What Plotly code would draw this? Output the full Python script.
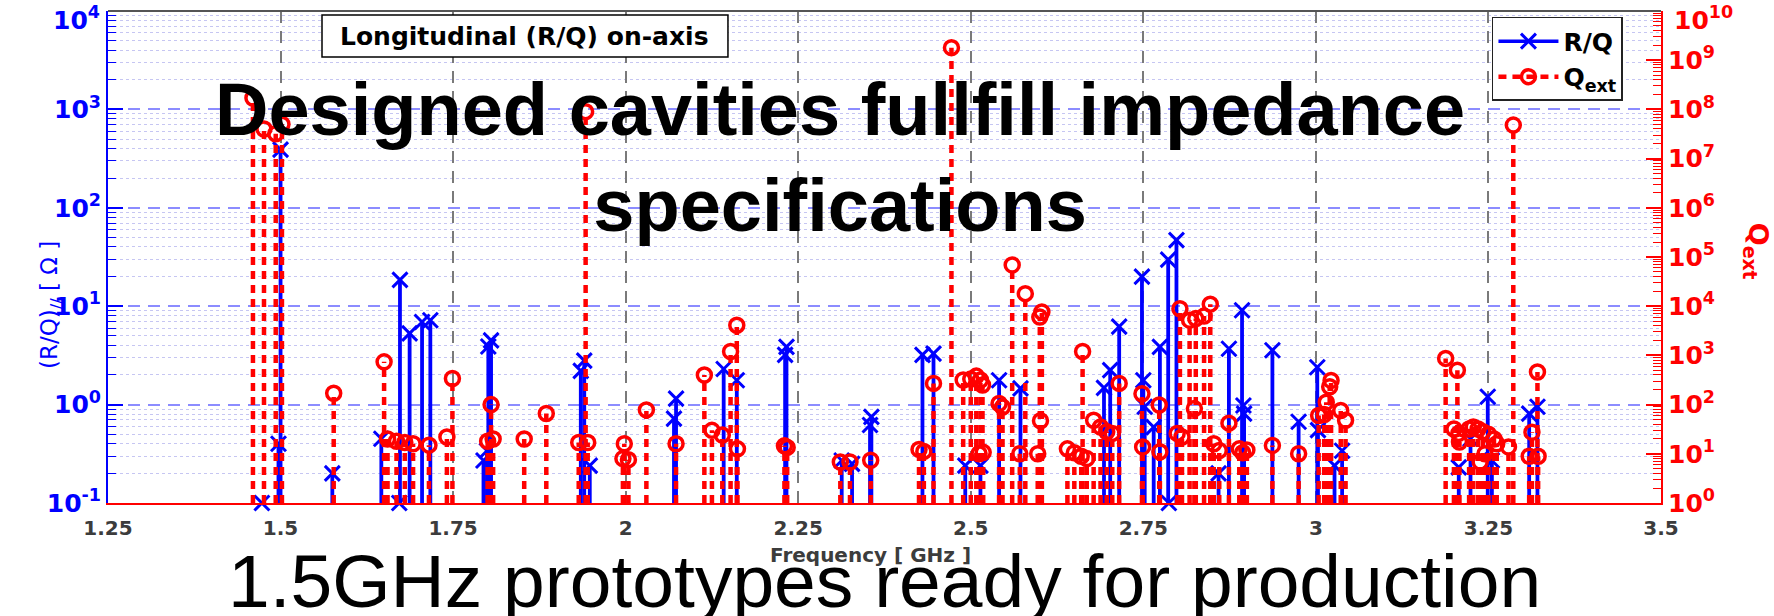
import plotly.graph_objects as go

# ---------------- data ----------------
freq_ticks = [1.25, 1.5, 1.75, 2.0, 2.25, 2.5, 2.75, 3.0, 3.25, 3.5]
freq_tick_labels = ["1.25", "1.5", "1.75", "2", "2.25", "2.5", "2.75", "3", "3.25", "3.5"]

rq_tick_vals = [1e-1, 1e0, 1e1, 1e2, 1e3, 1e4]
rq_tick_labels = ["10<sup>-1</sup>", "10<sup>0</sup>", "10<sup>1</sup>", "10<sup>2</sup>",
                  "10<sup>3</sup>", "10<sup>4</sup>"]
qext_tick_vals = [1e0, 1e1, 1e2, 1e3, 1e4, 1e5, 1e6, 1e7, 1e8, 1e9, 1e10]
qext_tick_labels = ["10<sup>0</sup>", "10<sup>1</sup>", "10<sup>2</sup>", "10<sup>3</sup>",
                    "10<sup>4</sup>", "10<sup>5</sup>", "10<sup>6</sup>", "10<sup>7</sup>",
                    "10<sup>8</sup>", "10<sup>9</sup>", "10<sup>10</sup>"]

# longitudinal R/Q [Ohm]
rq_freq = [1.473, 1.497, 1.500, 1.575, 1.646, 1.672, 1.673, 1.687, 1.705, 1.717,
           1.794, 1.799, 1.801, 1.805, 1.935, 1.940, 1.948, 2.070, 2.073, 2.142,
           2.161, 2.231, 2.233, 2.313, 2.328, 2.354, 2.356, 2.430, 2.446, 2.492,
           2.514, 2.541, 2.572, 2.693, 2.702, 2.715, 2.748, 2.750, 2.752, 2.765,
           2.774, 2.787, 2.786, 2.798, 2.859, 2.874, 2.893, 2.895, 2.896, 2.937,
           2.975, 3.002, 3.003, 3.027, 3.038, 3.207, 3.224, 3.249, 3.255, 3.309,
           3.321]
rq_vals = [0.10, 0.40, 390, 0.20, 0.45, 0.10, 18.5, 5.3, 6.9, 7.2,
           0.27, 0.34, 3.9, 4.5, 2.2, 2.8, 0.24, 0.72, 1.15, 2.3,
           1.77, 3.2, 3.86, 0.27, 0.25, 0.62, 0.75, 3.2, 3.3, 0.24,
           0.24, 1.77, 1.46, 1.48, 2.24, 6.2, 20, 1.77, 0.95, 0.59,
           3.86, 0.10, 29.7, 47, 0.20, 3.7, 9.1, 0.98, 0.81, 3.57,
           0.67, 2.4, 0.55, 0.24, 0.34, 0.23, 0.45, 1.2, 0.27, 0.81,
           0.95]

# external Q
qext_freq = [1.460, 1.476, 1.493, 1.502, 1.577, 1.650, 1.655, 1.668, 1.680, 1.692,
             1.715, 1.741, 1.749, 1.800, 1.805, 1.808, 1.853, 1.885, 1.932, 1.942,
             1.945, 1.998, 1.996, 2.004, 2.030, 2.073, 2.114, 2.125, 2.140, 2.152,
             2.161, 2.162, 2.230, 2.234, 2.311, 2.325, 2.355, 2.425, 2.432, 2.446,
             2.472, 2.489, 2.500, 2.508, 2.514, 2.517, 2.512, 2.518, 2.541, 2.546,
             2.560, 2.571, 2.579, 2.597, 2.600, 2.603, 2.601, 2.640, 2.650, 2.660,
             2.668, 2.662, 2.678, 2.688, 2.697, 2.705, 2.715, 2.748, 2.749, 2.773,
             2.774, 2.799, 2.803, 2.806, 2.817, 2.824, 2.826, 2.838, 2.847, 2.852,
             2.860, 2.874, 2.889, 2.894, 2.900, 2.937, 2.975, 3.004, 3.012, 3.015,
             3.020, 3.022, 3.036, 3.043, 3.188, 3.205, 3.200, 3.207, 3.208, 3.222,
             3.228, 3.235, 3.242, 3.250, 3.258, 3.262, 3.238, 3.245, 3.279, 3.286,
             3.321, 3.313, 3.309, 3.322]
qext_vals = [1.7e8, 4.0e7, 3.2e7, 5.0e7, 170, 740, 20, 18, 17, 16,
             15, 22, 340, 18, 100, 20, 20, 66, 17, 9.0e7,
             17, 16, 8.0, 7.6, 78, 16, 400, 30, 24, 1200,
             4100, 12.6, 14.5, 13.5, 6.8, 6.8, 7.4, 12.3, 11.2, 270,
             1.8e9, 316, 330, 380, 316, 250, 10, 10.7, 105, 89,
             6.9e4, 10, 1.8e4, 10, 6000, 7600, 47, 12.6, 10.5, 8.9,
             8.0, 1200, 48, 35, 28, 26, 270, 166, 13.8, 98,
             11, 26, 8900, 22, 5200, 83, 5600, 6300, 1.1e4, 16,
             11.7, 42, 12.6, 10.5, 12, 14.8, 10, 60, 63, 112,
             230, 310, 76, 48, 870, 500, 32, 26, 17.4, 32,
             35, 32, 28, 25, 20, 16, 6.8, 10, 13.8, 4.8e7,
             460, 27.5, 8.9, 8.9]

RQ_BASE = 0.1
QEXT_BASE = 1.0

BLUE = "#0000ff"
RED = "#ff0000"
FONT = "DejaVu Sans"


def stems(xs, ys, base):
    sx, sy = [], []
    for x, y in zip(xs, ys):
        sx += [x, x, None]
        sy += [base, y, None]
    return sx, sy


fig = go.Figure()

bx, by = stems(rq_freq, rq_vals, RQ_BASE)
rx, ry = stems(qext_freq, qext_vals, QEXT_BASE)

fig.add_trace(go.Scatter(x=bx, y=by, mode="lines", line=dict(color=BLUE, width=3.8),
                         showlegend=False, hoverinfo="skip", yaxis="y"))
fig.add_trace(go.Scatter(x=rx, y=ry, mode="lines", line=dict(color=RED, width=4.5, dash="8px,6px"),
                         showlegend=False, hoverinfo="skip", yaxis="y2"))
fig.add_trace(go.Scatter(x=rq_freq, y=rq_vals, mode="markers", yaxis="y", cliponaxis=False,
                         marker=dict(symbol="x-thin", size=15, line=dict(color=BLUE, width=3)),
                         showlegend=False))
fig.add_trace(go.Scatter(x=qext_freq, y=qext_vals, mode="markers", yaxis="y2", cliponaxis=False,
                         marker=dict(symbol="circle-open", size=14, color=RED, line=dict(color=RED, width=3.5)),
                         showlegend=False))

# legend entries
fig.add_trace(go.Scatter(x=[None], y=[None], mode="lines+markers", name="R/Q",
                         line=dict(color=BLUE, width=3.5),
                         marker=dict(symbol="x-thin", size=15, line=dict(color=BLUE, width=3))))
fig.add_trace(go.Scatter(x=[None], y=[None], mode="lines+markers", name="Q<sub>ext</sub>",
                         line=dict(color=RED, width=4.5, dash="8px,6px"),
                         marker=dict(symbol="circle-open", size=14, color=RED, line=dict(color=RED, width=3.5))))

rq_minor = [m * 10.0 ** e for e in range(-1, 4) for m in range(2, 10)]
q_minor = [m * 10.0 ** e for e in range(0, 10) for m in range(2, 10)]

# the topmost labels are placed a little lower (as in the original) via annotations
rq_axis_labels = rq_tick_labels[:-1] + [""]
q_axis_labels = qext_tick_labels[:-1] + [""]

fig.update_layout(
    width=1774, height=616,
    margin=dict(l=108, r=113, t=11, b=113, autoexpand=False),
    paper_bgcolor="white", plot_bgcolor="white",
    font=dict(family=FONT, color="black"),
    showlegend=True,
    legend=dict(x=0.9755, y=0.988, xanchor="right", yanchor="top",
                bgcolor="white", bordercolor="#222222", borderwidth=1.5,
                font=dict(family=FONT, size=25, color="black", weight="bold"),
                itemwidth=60, tracegroupgap=0),
    xaxis=dict(range=[1.25, 3.5], tickmode="array", tickvals=freq_ticks, ticktext=freq_tick_labels,
               showgrid=True, gridcolor="#7a7a7a", gridwidth=1.5, griddash="12px,8px",
               showline=True, linecolor=RED, linewidth=2, ticks="", zeroline=False,
               tickfont=dict(family=FONT, size=20, color="#3c3c3c", weight="bold"),
               ticklabelstandoff=6),
    yaxis=dict(type="log", range=[-1, 4], tickmode="array", tickvals=rq_tick_vals, ticktext=rq_axis_labels,
               showgrid=True, gridcolor="#8c8cff", gridwidth=1.5, griddash="12px,8px",
               showline=True, linecolor=BLUE, linewidth=2, ticks="inside", ticklen=15, tickwidth=1.5,
               tickcolor=BLUE, zeroline=False, ticklabeloverflow="allow",
               tickfont=dict(family=FONT, size=25, color=BLUE, weight="bold"),
               minor=dict(tickmode="array", tickvals=rq_minor, ticks="inside", ticklen=8,
                          tickcolor=BLUE, tickwidth=1.2, showgrid=True, gridcolor="#c6c6f2",
                          gridwidth=1, griddash="dot")),
    yaxis2=dict(type="log", range=[0, 10], overlaying="y", side="right", anchor="x",
                tickmode="array", tickvals=qext_tick_vals, ticktext=q_axis_labels,
                showgrid=False, showline=True, linecolor=RED, linewidth=2,
                ticks="inside", ticklen=15, tickwidth=1.5, tickcolor=RED, zeroline=False,
                ticklabeloverflow="allow",
                tickfont=dict(family=FONT, size=25, color=RED, weight="bold"),
                minor=dict(tickmode="array", tickvals=q_minor, ticks="inside", ticklen=8,
                           tickcolor=RED, tickwidth=1.2, showgrid=False)),
)

fig.add_annotation(text="<b>" + rq_tick_labels[-1] + "</b>", xref="paper", yref="paper",
                   x=-0.0039, y=0.985, xanchor="right", yanchor="middle", showarrow=False,
                   font=dict(family=FONT, size=25, color=BLUE))
fig.add_annotation(text="<b>" + qext_tick_labels[-1] + "</b>", xref="paper", yref="paper",
                   x=1.0071, y=0.985, xanchor="left", yanchor="middle", showarrow=False,
                   font=dict(family=FONT, size=25, color=RED))

# top border
fig.add_shape(type="line", xref="paper", yref="paper", x0=0, x1=1, y0=1, y1=1,
              line=dict(color="#555555", width=2))
# chart title box
fig.add_shape(type="rect", xref="paper", yref="paper", x0=0.1378, x1=0.3992, y0=0.9065, y1=0.9919,
              line=dict(color="black", width=1.5), fillcolor="white")
fig.add_annotation(text="<b>Longitudinal (R/Q) on-axis</b>", xref="paper", yref="paper",
                   x=0.2685, y=0.949, showarrow=False, xanchor="center", yanchor="middle",
                   font=dict(family=FONT, size=25, color="black"))

# axis titles
fig.add_annotation(text="(R/Q)<sub>//</sub> [ Ω ]", xref="paper", yref="paper",
                   x=-0.0477, y=0.4024, textangle=-90, showarrow=False,
                   font=dict(family=FONT, size=23, color=BLUE))
fig.add_annotation(text="<b>Q<sub>ext</sub></b>", xref="paper", yref="paper",
                   x=1.074, y=0.512, textangle=90, showarrow=False,
                   font=dict(family=FONT, size=27, color=RED))
fig.add_annotation(text="<b>Frequency [ GHz ]</b>", xref="paper", yref="paper",
                   x=0.4913, y=-0.1342, showarrow=False,
                   font=dict(family=FONT, size=20, color="#3c3c3c"))

# slide overlay texts
fig.add_annotation(text="<b>Designed cavities fullfill impedance<br>specifications</b>",
                   xref="paper", yref="paper", x=0.4713, y=0.703, showarrow=False,
                   xanchor="center", yanchor="middle",
                   font=dict(family="Liberation Sans, Arial", size=74, color="black"))
fig.add_annotation(text="1.5GHz prototypes ready for production",
                   xref="paper", yref="paper", x=0.5003, y=-0.1585, showarrow=False,
                   xanchor="center", yanchor="middle",
                   font=dict(family="Liberation Sans, Arial", size=75, color="black"))

fig.write_html("out.html")
